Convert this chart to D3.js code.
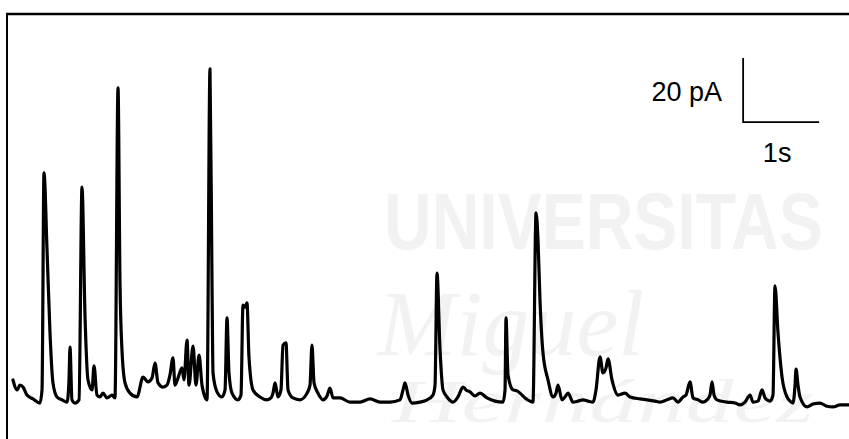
<!DOCTYPE html>
<html>
<head>
<meta charset="utf-8">
<script src="https://cdn.jsdelivr.net/npm/d3@7"></script>
<style>
  html, body { margin: 0; padding: 0; background: #fff; }
  svg { display: block; }
</style>
</head>
<body>
<svg id="chart" width="849" height="439"></svg>
<script>
// Recording trace: time (s) and current (pA)
const timeS = [0.013,0.066,0.105,0.145,0.197,0.276,0.368,0.395,0.421,0.461,0.5,0.539,0.592,0.658,0.724,0.75,0.763,0.789,0.829,0.882,
0.921,0.961,1.0,1.053,1.079,1.118,1.158,1.197,1.25,1.316,1.355,1.395,1.421,1.447,1.487,1.553,1.645,1.724,1.789,1.842,
1.882,1.921,1.987,2.039,2.079,2.118,2.145,2.184,2.237,2.263,2.303,2.329,2.382,2.421,2.461,2.5,2.566,2.605,2.632,2.645,
2.697,2.763,2.803,2.829,2.855,2.895,2.974,3.013,3.039,3.066,3.092,3.118,3.171,3.263,3.355,3.408,3.434,3.461,3.5,3.539,
3.566,3.605,3.632,3.697,3.789,3.882,3.921,3.947,3.974,4.026,4.092,4.145,4.184,4.224,4.316,4.447,4.579,4.711,4.842,4.974,
5.105,5.145,5.171,5.211,5.263,5.368,5.461,5.539,5.566,5.592,5.632,5.671,5.724,5.803,5.868,5.934,5.974,6.026,6.092,6.158,
6.25,6.355,6.461,6.487,6.5,6.526,6.592,6.645,6.684,6.75,6.816,6.855,6.895,6.921,6.947,6.987,7.053,7.118,7.158,7.184,
7.237,7.276,7.316,7.382,7.447,7.513,7.579,7.645,7.684,7.737,7.776,7.816,7.842,7.895,7.974,8.066,8.132,8.263,8.355,8.461,
8.526,8.618,8.697,8.763,8.829,8.868,8.921,8.961,9.026,9.092,9.145,9.184,9.211,9.237,9.276,9.408,9.513,9.579,9.645,9.711,
9.75,9.816,9.868,9.908,9.934,9.974,10.013,10.039,10.079,10.132,10.197,10.237,10.276,10.303,10.316,10.342,10.368,10.461,10.539,10.632,
10.711,10.803,10.895,11.013];
const currentPA = [7.5,4.4,5.9,5.3,2.8,1.6,0.3,4.4,72.2,48.1,22.2,6.6,2.2,1.3,0.6,7.5,17.8,1.3,0.3,1.3,
67.8,27.2,7.5,4.4,11.9,2.8,2.2,3.4,1.9,2.8,1.9,98.8,37.8,16.9,6.6,3.4,2.2,8.4,6.9,8.1,
12.8,6.6,5.3,5.9,9.1,14.4,5.9,8.1,11.3,7.5,20.0,5.9,18.1,5.9,15.3,5.9,1.3,104.7,36.6,9.7,
3.8,2.2,4.4,26.9,9.7,3.4,1.3,2.8,30.9,30.3,31.6,14.7,4.4,2.2,1.3,1.9,3.4,6.6,2.2,4.4,
18.4,19.1,4.4,1.9,1.3,3.4,5.9,18.4,6.6,3.4,1.3,2.5,5.0,1.9,1.9,0.6,0.6,1.6,0.6,0.6,
1.3,4.4,6.6,2.8,0.3,0.6,1.3,2.8,5.9,40.9,16.9,4.4,2.2,0.6,2.2,5.3,4.4,3.8,2.5,3.4,
1.9,0.9,0.6,4.4,26.9,9.1,4.4,4.1,3.4,1.9,0.9,0.6,59.7,51.3,32.5,15.9,7.5,2.2,3.4,5.9,
1.3,2.2,3.4,0.6,0.9,1.3,0.9,0.6,4.4,14.7,9.7,11.3,14.1,7.5,2.8,3.4,2.2,1.6,1.3,0.9,
0.6,1.3,1.9,0.6,2.2,2.8,6.9,1.9,1.3,0.6,1.3,2.8,6.9,2.8,1.3,0.6,0.3,-0.3,0.6,2.8,
0.6,0.9,4.4,1.9,1.3,0.9,2.8,36.9,22.2,8.4,2.2,0.9,0.3,5.9,10.9,5.9,2.2,-0.9,0,0.3,
-0.6,-0.9,-0.3,-0.3];

// Scale bar (calibration): origin, lengths and labels
const scaleBarOrigin = [9.62, 88.1];   // [s, pA]
const scaleBarTime = 1;                // s
const scaleBarCurrent = 20;            // pA
const scaleBarLabels = ["20 pA", "1s"];

// Background watermark texts
const watermarkTexts = ["UNIVERSITAS", "Miguel", "Hernández"];

const W = 849, H = 439;
const svg = d3.select("#chart");

const x = d3.scaleLinear().domain([0, 11.013]).range([12, 849]);
const y = d3.scaleLinear().domain([-10, 120]).range([436, 20]);

// faint watermark (stretched with transforms so its natural box stays inside the picture)
const wm = svg.append("g").attr("fill", "#f2f2f2");
wm.append("text")
  .attr("transform", "translate(384,249) scale(1,1.22)")
  .attr("font-family", "Liberation Sans, Arial, sans-serif").attr("font-weight", "bold")
  .attr("font-size", 66)
  .text(watermarkTexts[0]);
wm.append("text")
  .attr("transform", "translate(378,355)")
  .attr("font-family", "Liberation Serif, Times New Roman, serif").attr("font-style", "italic")
  .attr("font-size", 94)
  .text(watermarkTexts[1]);
wm.append("text")
  .attr("transform", "translate(392,422) scale(1.55,1)")
  .attr("font-family", "Liberation Serif, Times New Roman, serif").attr("font-style", "italic")
  .attr("font-size", 62)
  .text(watermarkTexts[2]);

// frame (top and left edges)
svg.append("line").attr("x1", 6).attr("x2", W).attr("y1", 14).attr("y2", 14)
  .attr("stroke", "#000").attr("stroke-width", 2.5);
svg.append("line").attr("x1", 7).attr("x2", 7).attr("y1", 13).attr("y2", H)
  .attr("stroke", "#000").attr("stroke-width", 2);

// trace
const pts = timeS.map((t, i) => [t, currentPA[i]]);
const line = d3.line()
  .x(d => x(d[0]))
  .y(d => y(d[1]))
  .curve(d3.curveMonotoneX);
svg.append("path").datum(pts)
  .attr("d", line)
  .attr("fill", "none")
  .attr("stroke", "#000")
  .attr("stroke-width", 3.2)
  .attr("stroke-linejoin", "round")
  .attr("stroke-linecap", "round");

// scale bar
const [t0, i0] = scaleBarOrigin;
svg.append("path")
  .attr("d", `M${x(t0)},${y(i0 + scaleBarCurrent)}L${x(t0)},${y(i0)}L${x(t0 + scaleBarTime)},${y(i0)}`)
  .attr("fill", "none").attr("stroke", "#000").attr("stroke-width", 1.8);

svg.append("text")
  .attr("x", x(t0) - 21).attr("y", y(i0 + scaleBarCurrent / 2) + 11)
  .attr("text-anchor", "end")
  .attr("font-family", "Liberation Sans, Arial, sans-serif")
  .attr("font-size", 27).attr("fill", "#000")
  .text(scaleBarLabels[0]);
svg.append("text")
  .attr("x", x(t0 + scaleBarTime / 2) - 4).attr("y", y(i0) + 40)
  .attr("text-anchor", "middle")
  .attr("font-family", "Liberation Sans, Arial, sans-serif")
  .attr("font-size", 27).attr("fill", "#000")
  .text(scaleBarLabels[1]);
</script>
</body>
</html>
